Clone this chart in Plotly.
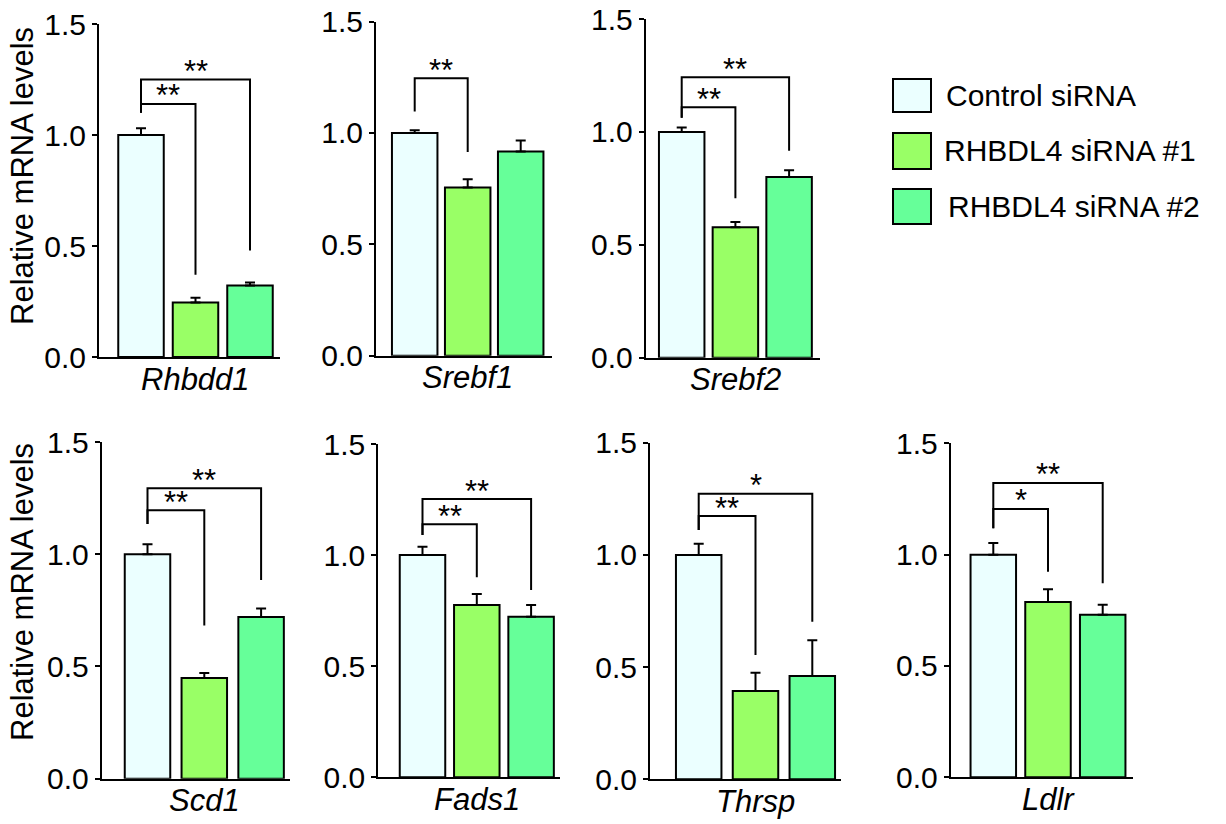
import plotly.graph_objects as go

# ---------------- data ----------------
genes = ["Rhbdd1", "Srebf1", "Srebf2", "Scd1", "Fads1", "Thrsp", "Ldlr"]
groups = ["Control siRNA", "RHBDL4 siRNA #1", "RHBDL4 siRNA #2"]

control_mean = [1.00, 1.00, 1.00, 1.00, 1.00, 1.00, 1.00]
control_sem = [0.030, 0.012, 0.020, 0.045, 0.038, 0.050, 0.052]
si1_mean = [0.245, 0.755, 0.578, 0.449, 0.775, 0.393, 0.787]
si1_sem = [0.022, 0.037, 0.023, 0.022, 0.050, 0.082, 0.057]
si2_mean = [0.322, 0.916, 0.800, 0.720, 0.723, 0.460, 0.730]
si2_sem = [0.014, 0.050, 0.030, 0.038, 0.052, 0.160, 0.045]

# significance: control vs siRNA #1, control vs siRNA #2
sig1 = ["**", "**", "**", "**", "**", "**", "*"]
sig2 = ["**", "", "**", "**", "**", "*", "**"]
# bracket levels (y units)
left_leg = [1.100, 1.096, 1.063, 1.135, 1.090, 1.111, 1.118]
br1_top = [1.140, 1.245, 1.109, 1.196, 1.139, 1.173, 1.205]
br1_end = [0.370, 0.914, 0.706, 0.682, 0.900, 0.554, 0.923]
br2_top = [1.250, None, 1.242, 1.294, 1.252, 1.273, 1.322]
br2_end = [0.480, None, 0.917, 0.885, 0.843, 0.702, 0.871]

yticks = [0.0, 0.5, 1.0, 1.5]
ytick_text = ["0.0", "0.5", "1.0", "1.5"]
y_title = "Relative mRNA levels"

colors = ["#EBFFFF", "#99FF66", "#66FF99"]

# ---------------- layout geometry (page pixels) ----------------
W, H = 1226, 824


def px_x(p):
    return p / W


def px_y(p):
    return 1 - p / H


# (axis left, axis right, first bar centre, bar spacing, y of 0, y of 1.5)
panels_px = [
    (99, 280, 141, 54.5, 357, 24),
    (376, 552, 414.7, 53, 355.7, 21.5),
    (645.7, 820, 681.7, 53.7, 357.7, 19),
    (101.7, 290, 147.5, 56.8, 778.7, 442),
    (378.3, 560, 422.5, 54.3, 777.3, 444),
    (650, 841, 698.7, 56.8, 779.3, 442.7),
    (950.7, 1133, 993.3, 54.7, 777.3, 443.3),
]
BAR_PX = 45.5
FONT = "Liberation Sans, Arial, sans-serif"

fig = go.Figure()
layout = dict(
    width=W, height=H, autosize=False,
    margin=dict(l=0, r=0, t=0, b=0, pad=0),
    paper_bgcolor="white", plot_bgcolor="white",
    showlegend=False,
    font=dict(family=FONT, color="black"),
    bargap=0,
)
annotations = []
shapes = []

for i, g in enumerate(genes):
    xl, xr, c0, s, y0, y15 = panels_px[i]
    n = "" if i == 0 else str(i + 1)
    xa, ya = "x" + n, "y" + n
    means = [control_mean[i], si1_mean[i], si2_mean[i]]
    sems = [control_sem[i], si1_sem[i], si2_sem[i]]
    fig.add_trace(go.Bar(
        x=[0, 1, 2], y=means, width=BAR_PX / s,
        marker=dict(color=colors, line=dict(color="black", width=2)),
        error_y=dict(type="data", array=sems, arrayminus=[0, 0, 0], symmetric=False,
                     color="black", thickness=2, width=5),
        xaxis=xa, yaxis=ya, hoverinfo="skip",
    ))
    fig.add_trace(go.Scatter(
        x=[0, 0, 1, 1], y=[left_leg[i], br1_top[i], br1_top[i], br1_end[i]],
        mode="lines", line=dict(color="black", width=2),
        xaxis=xa, yaxis=ya, hoverinfo="skip", cliponaxis=False,
    ))
    annotations.append(dict(x=0.5, y=br1_top[i], xref=xa, yref=ya, text=sig1[i],
                            showarrow=False, yanchor="middle", yshift=8,
                            font=dict(size=31, family=FONT, color="black")))
    if br2_top[i] is not None:
        fig.add_trace(go.Scatter(
            x=[0, 0, 2, 2], y=[left_leg[i], br2_top[i], br2_top[i], br2_end[i]],
            mode="lines", line=dict(color="black", width=2),
            xaxis=xa, yaxis=ya, hoverinfo="skip", cliponaxis=False,
        ))
        annotations.append(dict(x=1, y=br2_top[i], xref=xa, yref=ya, text=sig2[i],
                                showarrow=False, yanchor="middle", yshift=8,
                                font=dict(size=31, family=FONT, color="black")))
    # gene label under the middle bar
    annotations.append(dict(x=1, y=0, xref=xa, yref=ya, text="<i>" + g + "</i>",
                            showarrow=False, xanchor="center", yanchor="middle",
                            yshift=-22,
                            font=dict(size=31, family=FONT, color="black")))

    layout["xaxis" + n] = dict(
        domain=[px_x(xl), px_x(xr)],
        range=[(xl - c0) / s, (xr - c0) / s],
        anchor=ya, showline=True, linecolor="black", linewidth=2,
        showticklabels=False, ticks="",
        showgrid=False, zeroline=False, fixedrange=True, automargin=False,
    )
    layout["yaxis" + n] = dict(
        domain=[px_y(y0), px_y(y15)],
        range=[0, 1.5], anchor=xa,
        showline=True, linecolor="black", linewidth=2,
        tickvals=yticks, ticktext=ytick_text, ticks="outside", ticklen=5,
        tickwidth=2, tickcolor="black", ticklabeloverflow="allow",
        tickfont=dict(size=30, family=FONT, color="black"),
        showgrid=False, zeroline=False, fixedrange=True, automargin=False,
    )

# y-axis titles
for yc in (176, 592):
    annotations.append(dict(x=px_x(22), y=px_y(yc), xref="paper", yref="paper",
                            text=y_title, textangle=-90, showarrow=False,
                            xanchor="center", yanchor="middle",
                            font=dict(size=31, family=FONT, color="black")))

# legend
legend_boxes = [(893, 79, 931, 112), (893, 133, 931, 169), (893, 189, 931, 224)]
legend_text_x = [944, 942, 946]
for k, grp in enumerate(groups):
    x0, yt, x1, yb = legend_boxes[k]
    shapes.append(dict(type="rect", xref="paper", yref="paper",
                       x0=px_x(x0), x1=px_x(x1), y0=px_y(yb), y1=px_y(yt),
                       fillcolor=colors[k], line=dict(color="black", width=2)))
    annotations.append(dict(x=px_x(legend_text_x[k]), y=px_y((yt + yb) / 2),
                            xref="paper", yref="paper", text=grp, showarrow=False,
                            xanchor="left", yanchor="middle",
                            font=dict(size=30, family=FONT, color="black")))

layout["annotations"] = annotations
layout["shapes"] = shapes
fig.update_layout(**layout)
fig.write_html("out.html",
               config={"displayModeBar": False, "staticPlot": True},
               post_script="document.body.style.margin='0';document.body.style.overflow='hidden';")
